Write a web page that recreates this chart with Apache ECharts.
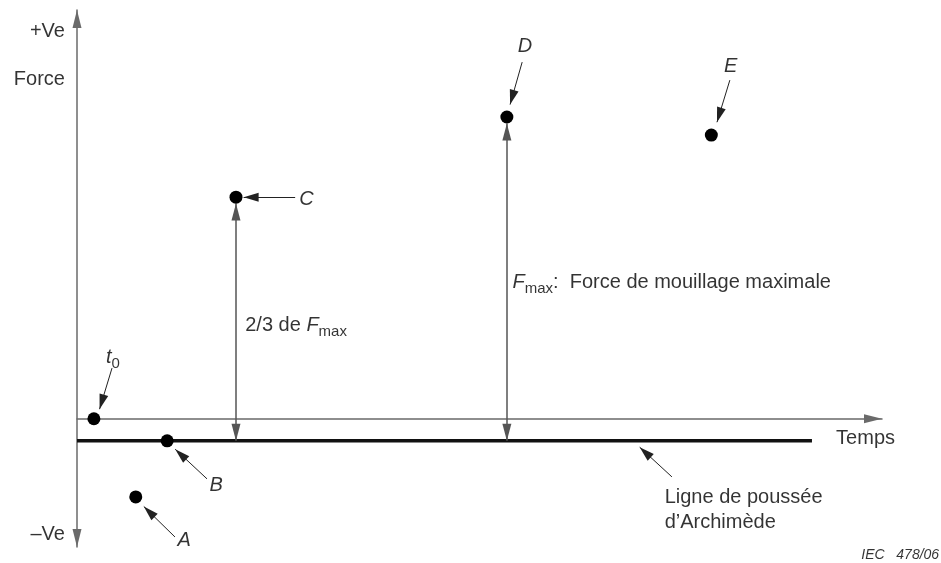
<!DOCTYPE html>
<html lang="fr">
<head>
<meta charset="UTF-8">
<title>Force de mouillage</title>
<script src="https://cdn.jsdelivr.net/npm/echarts@6/dist/echarts.min.js"></script>
<style>
  html, body { margin: 0; padding: 0; background: #fff; }
  #main { width: 941px; height: 563px; }
</style>
</head>
<body>
<div id="main"></div>
<script>
// points caracteristiques (temps, force)
var pointNames = ['t0', 'A', 'B', 'C', 'D', 'E'];
var pointTime  = [2.1, 7.3, 11.2, 19.75, 53.4, 78.8];
var pointForce = [0, -19.5, -5.5, 55.3, 75.3, 70.8];

// ligne de poussee d'Archimede
var buoyancyForce = -5.5;
var buoyancyEnd = 91.3;

// fleches de repere : [x depart, y depart, x arrivee, y arrivee]
var pointerArrows = [
  [4.35, 12.65, 2.8, 2.4],     // t0
  [12.17, -29.5, 8.3, -21.9],  // A
  [16.15, -15.0, 12.2, -7.6],  // B
  [27.1, 55.3, 20.7, 55.3],    // C
  [55.3, 89.0, 53.8, 78.4],    // D
  [81.1, 84.5, 79.5, 74.0],    // E
  [73.9, -14.5, 69.9, -7.1]    // Archimede
];

// cotes verticales (C -> 2/3 Fmax, D -> Fmax)
var dimTime = [19.75, 53.4];
var dimTop  = [53.7, 73.7];

// textes : [x, y, texte, alignement]
var labelTexts = [
  [-1.5, 96.7, '+Ve', 'right'],
  [-1.5, 84.7, 'Force', 'right'],
  [-1.5, -29.0, '\u2013Ve', 'right'],
  [94.3, -4.8, 'Temps', 'left'],
  [3.6, 15.3, '{it|t}{sub|0}', 'left'],
  [27.6, 54.8, '{it|C}', 'left'],
  [55.65, 92.8, '{it|D}', 'center'],
  [81.2, 88.0, '{it|E}', 'center'],
  [17.3, -16.6, '{it|B}', 'center'],
  [13.3, -30.3, '{it|A}', 'center'],
  [20.9, 23.4, '2/3 de {it|F}{sub|max}', 'left'],
  [54.1, 34.1, '{it|F}{sub|max}:  Force de mouillage maximale', 'left'],
  [73.0, -22.7, 'Ligne de pouss\u00e9e\nd\u2019Archim\u00e8de', 'left'],
  [107.1, -34.0, '{small|IEC   478/06}', 'right']
];

// pointe de fleche dont la pointe est au centre du symbole
var ARROW = 'path://M5,0L5,0M5,20L10,40L0,40Z';

var chart = echarts.init(document.getElementById('main'));

var richStyle = {
  it: { fontStyle: 'italic', fontSize: 20, fontFamily: 'Liberation Sans', color: '#000', lineHeight: 28 },
  sub: { fontSize: 15, fontFamily: 'Liberation Sans', color: '#000', verticalAlign: 'bottom', lineHeight: 28 },
  small: { fontStyle: 'italic', fontSize: 14, fontFamily: 'Liberation Sans', color: '#000' }
};

var arrowLines = pointerArrows.map(function (a) {
  return [{ coord: [a[0], a[1]] }, { coord: [a[2], a[3]] }];
});
var dimLines = dimTime.map(function (t, i) {
  return [{ coord: [t, buoyancyForce] }, { coord: [t, dimTop[i]] }];
});

var option = {
  animation: false,
  backgroundColor: '#fff',
  textStyle: { fontFamily: 'Liberation Sans' },
  grid: { left: 77, top: 10, width: 805, height: 537 },
  xAxis: {
    type: 'value', min: 0, max: 100,
    axisLine: { show: true, onZero: true, symbol: ['none', ARROW], symbolSize: [9, 38],
                lineStyle: { color: '#6a6a6a', width: 1.5 } },
    axisTick: { show: false }, axisLabel: { show: false }, splitLine: { show: false }
  },
  yAxis: {
    type: 'value', min: -32, max: 102,
    axisLine: { show: true, symbol: [ARROW, ARROW], symbolSize: [9, 38],
                lineStyle: { color: '#6a6a6a', width: 1.5 } },
    axisTick: { show: false }, axisLabel: { show: false }, splitLine: { show: false }
  },
  series: [
    {
      type: 'line',
      data: [[0, buoyancyForce], [buoyancyEnd, buoyancyForce]],
      symbol: 'none',
      lineStyle: { color: '#111', width: 3.5 },
      silent: true,
      z: 2,
      markLine: {
        silent: true,
        symbol: [ARROW, ARROW],
        symbolSize: [9, 34],
        label: { show: false },
        lineStyle: { color: '#555', width: 1.5, type: 'solid' },
        data: dimLines
      }
    },
    {
      type: 'scatter',
      data: pointTime.map(function (t, i) { return [t, pointForce[i], pointNames[i]]; }),
      symbolSize: 13,
      itemStyle: { color: '#000', opacity: 1 },
      silent: true,
      z: 5,
      markLine: {
        silent: true,
        symbol: ['none', ARROW],
        symbolSize: [9, 30],
        label: { show: false },
        lineStyle: { color: '#222', width: 1, type: 'solid' },
        data: arrowLines
      }
    },
    {
      type: 'scatter',
      clip: false,
      silent: true,
      symbolSize: 1,
      itemStyle: { color: 'rgba(0,0,0,0)' },
      data: labelTexts.map(function (l) {
        return {
          value: [l[0], l[1]],
          label: { align: l[3] }
        };
      }),
      label: {
        show: true,
        position: 'inside',
        verticalAlign: 'middle',
        fontSize: 20,
        color: '#000',
        lineHeight: 25,
        fontFamily: 'Liberation Sans',
        rich: richStyle,
        formatter: function (p) { return labelTexts[p.dataIndex][2]; }
      }
    }
  ]
};

chart.setOption(option);
</script>
</body>
</html>
